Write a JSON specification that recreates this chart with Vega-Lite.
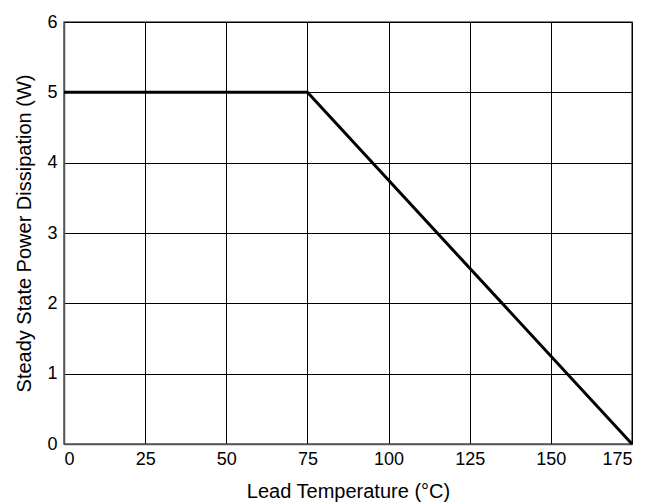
{
  "$schema": "https://vega.github.io/schema/vega-lite/v6.json",
  "autosize": "none",
  "width": 568,
  "height": 422,
  "padding": {"left": 64, "top": 22, "right": 29, "bottom": 58},
  "background": "white",
  "config": {
    "font": "Liberation Sans",
    "view": {"stroke": "#555555", "strokeWidth": 1.5},
    "axis": {
      "grid": true,
      "gridColor": "black",
      "gridOpacity": 1,
      "gridWidth": 1,
      "ticks": false,
      "domainColor": "#555555",
      "domainWidth": 1.5,
      "labelFont": "Liberation Sans",
      "labelFontSize": 18,
      "labelColor": "black",
      "titleFont": "Liberation Sans",
      "titleFontSize": 20,
      "titleFontWeight": "normal",
      "titleColor": "black"
    }
  },
  "data": {
    "values": [
      {"t": 0, "p": 5},
      {"t": 75, "p": 5},
      {"t": 175, "p": 0}
    ]
  },
  "mark": {"type": "line", "color": "black", "strokeWidth": 3, "clip": false},
  "encoding": {
    "x": {
      "field": "t",
      "type": "quantitative",
      "scale": {"domain": [0, 175], "nice": false},
      "axis": {"values": [0, 25, 50, 75, 100, 125, 150, 175], "title": "Lead Temperature (°C)", "labelPadding": 6, "titlePadding": 13}
    },
    "y": {
      "field": "p",
      "type": "quantitative",
      "scale": {"domain": [0, 6], "nice": false},
      "axis": {"values": [0, 1, 2, 3, 4, 5, 6], "title": "Steady State Power Dissipation (W)", "labelPadding": 7, "titlePadding": 12}
    }
  }
}
